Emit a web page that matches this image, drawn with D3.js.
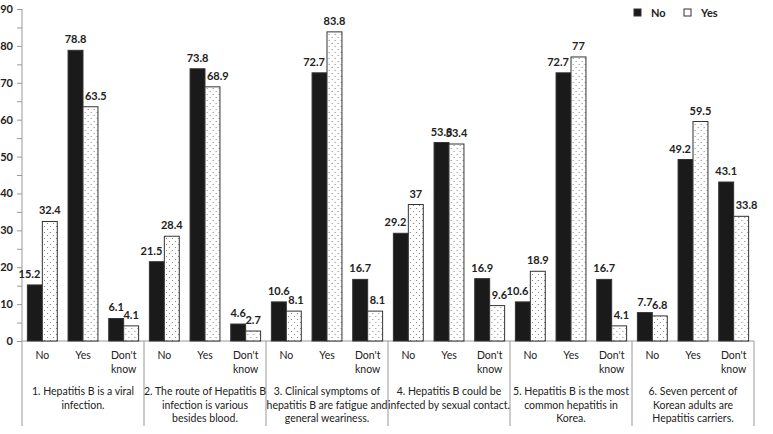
<!DOCTYPE html>
<html>
<head>
<meta charset="utf-8">
<script src="https://cdn.jsdelivr.net/npm/d3@7"></script>
<style>
  body { margin: 0; background: #fff; }
  text { font-family: Lato, "Open Sans", sans-serif; fill: #222; }
  .axis path, .axis line { stroke: #999; }
</style>
</head>
<body>
<div id="chart"></div>
<script>
// data
const groupLabels = [
  ["1. Hepatitis B is a viral", "infection."],
  ["2. The route of Hepatitis B", "infection is various", "besides blood."],
  ["3. Clinical symptoms of", "hepatitis B are fatigue and", "general weariness."],
  ["4. Hepatitis B could be", "infected by sexual contact."],
  ["5. Hepatitis B is the most", "common hepatitis in", "Korea."],
  ["6. Seven percent of", "Korean adults are", "Hepatitis carriers."]
];
const answers = ["No", "Yes", "Don't know"];
const seriesNames = ["No", "Yes"];
// per group: [No, Yes, Don't know] for each series
const valuesNo = [
  [15.2, 78.8, 6.1],
  [21.5, 73.8, 4.6],
  [10.6, 72.7, 16.7],
  [29.2, 53.8, 16.9],
  [10.6, 72.7, 16.7],
  [7.7, 49.2, 43.1]
];
const valuesYes = [
  [32.4, 63.5, 4.1],
  [28.4, 68.9, 2.7],
  [8.1, 83.8, 8.1],
  [37, 53.4, 9.6],
  [18.9, 77, 4.1],
  [6.8, 59.5, 33.8]
];
const yTicks = d3.range(0, 91, 5);

// layout
const W = 773, H = 434;
const plot = {left: 22, right: 754, top: 9, bottom: 341};
const labelGap = 7;   // bar top -> label baseline

const svg = d3.select("#chart").append("svg")
    .attr("width", W)
    .attr("height", H);

// dotted pattern for the "Yes" series
const defs = svg.append("defs");
const pat = defs.append("pattern")
    .attr("id", "dots")
    .attr("patternUnits", "userSpaceOnUse")
    .attr("width", 6).attr("height", 6);
pat.append("rect").attr("width", 6).attr("height", 6).attr("fill", "#fff");
pat.append("circle").attr("cx", 1.5).attr("cy", 1.5).attr("r", 0.6).attr("fill", "#777");
pat.append("circle").attr("cx", 4.5).attr("cy", 4.5).attr("r", 0.6).attr("fill", "#777");

// scales
const xGroup = d3.scaleBand()
    .domain(d3.range(groupLabels.length))
    .range([plot.left, plot.right]);

const xAns = d3.scaleBand()
    .domain(answers)
    .range([0, xGroup.bandwidth()]);

const xSeries = d3.scaleBand()
    .domain(seriesNames)
    .range([0, xAns.bandwidth()])
    .paddingOuter(0.36);

const y = d3.scaleLinear()
    .domain([0, 90])
    .range([plot.bottom, plot.top]);

// y axis
const yAxis = svg.append("g")
    .attr("class", "axis")
    .attr("transform", `translate(${plot.left},0)`)
    .call(d3.axisLeft(y).tickValues(yTicks).tickSize(5).tickPadding(4)
      .tickFormat(d => d % 10 === 0 ? d : ""));
yAxis.select(".domain").remove();
yAxis.selectAll("text")
    .style("font-size", "11px")
    .style("font-weight", "bold")
    .attr("fill", "#333");

// bottom line and separators
svg.append("line")
    .attr("x1", plot.left).attr("x2", plot.right)
    .attr("y1", plot.bottom).attr("y2", plot.bottom)
    .attr("stroke", "#999");
svg.append("line")
    .attr("x1", plot.left).attr("x2", plot.left)
    .attr("y1", plot.top).attr("y2", plot.bottom)
    .attr("stroke", "#999");
svg.selectAll(".sep")
    .data(d3.range(groupLabels.length + 1))
    .join("line")
    .attr("class", "sep")
    .attr("x1", d => plot.left + d * xGroup.bandwidth())
    .attr("x2", d => plot.left + d * xGroup.bandwidth())
    .attr("y1", plot.bottom).attr("y2", 426)
    .attr("stroke", "#999");

// bars
const groups = svg.selectAll(".grp")
    .data(groupLabels.map((g, i) => ({i, no: valuesNo[i], yes: valuesYes[i]})))
    .join("g")
    .attr("class", "grp")
    .attr("transform", d => `translate(${xGroup(d.i)},0)`);

const cells = groups.selectAll(".cell")
    .data(d => answers.map((a, j) => ({a, vals: [
      {s: "No", v: d.no[j], other: d.yes[j]},
      {s: "Yes", v: d.yes[j], other: d.no[j]}
    ]})))
    .join("g")
    .attr("class", "cell")
    .attr("transform", d => `translate(${xAns(d.a)},0)`);

cells.selectAll("rect")
    .data(d => d.vals)
    .join("rect")
    .attr("x", d => xSeries(d.s))
    .attr("y", d => y(d.v))
    .attr("width", xSeries.bandwidth())
    .attr("height", d => y(0) - y(d.v))
    .attr("fill", d => d.s === "No" ? "#1a1a1a" : "url(#dots)")
    .attr("stroke", "#333")
    .attr("stroke-width", 1);

// value labels, nudged sideways when the neighbour bar reaches them
cells.selectAll(".val")
    .data(d => d.vals)
    .join("text")
    .attr("class", "val")
    .attr("y", d => y(d.v) - labelGap)
    .attr("text-anchor", "middle")
    .style("font-size", "11px")
    .style("font-weight", "bold")
    .text(d => d.v)
    .attr("x", function(d) {
      const w = this.getComputedTextLength();
      let cx = xSeries(d.s) + xSeries.bandwidth() / 2;
      const baseline = y(d.v) - labelGap;
      if (y(d.other) < baseline - 2) {
        if (d.s === "No") cx = Math.min(cx, xSeries("Yes") - 2 - w / 2);
        else cx = Math.max(cx, xSeries("Yes") + 2 + w / 2);
      }
      return cx;
    });

// answer labels
cells.each(function(d) {
  const words = d.a === "Don't know" ? ["Don't", "know"] : [d.a];
  d3.select(this).selectAll(".ans")
    .data(words)
    .join("text")
    .attr("class", "ans")
    .attr("x", xAns.bandwidth() / 2)
    .attr("y", (w, k) => 359 + k * 14)
    .attr("text-anchor", "middle")
    .style("font-size", "10.5px")
    .text(w => w);
});

// group labels
groups.selectAll(".glab")
    .data(d => groupLabels[d.i])
    .join("text")
    .attr("class", "glab")
    .attr("x", xGroup.bandwidth() / 2)
    .attr("y", (t, k) => 395 + k * 13.5)
    .attr("text-anchor", "middle")
    .style("font-size", "10.5px")
    .text(t => t);

// legend
const legend = svg.append("g").attr("transform", "translate(634,9)");
const items = legend.selectAll("g")
    .data(seriesNames)
    .join("g")
    .attr("transform", (d, i) => `translate(${i * 50},0)`);
items.append("rect")
    .attr("width", 7).attr("height", 7)
    .attr("fill", d => d === "No" ? "#1a1a1a" : "#fff")
    .attr("stroke", "#333");
items.append("text")
    .attr("x", 17).attr("y", 8)
    .style("font-size", "11px")
    .style("font-weight", "bold")
    .text(d => d);
</script>
</body>
</html>
